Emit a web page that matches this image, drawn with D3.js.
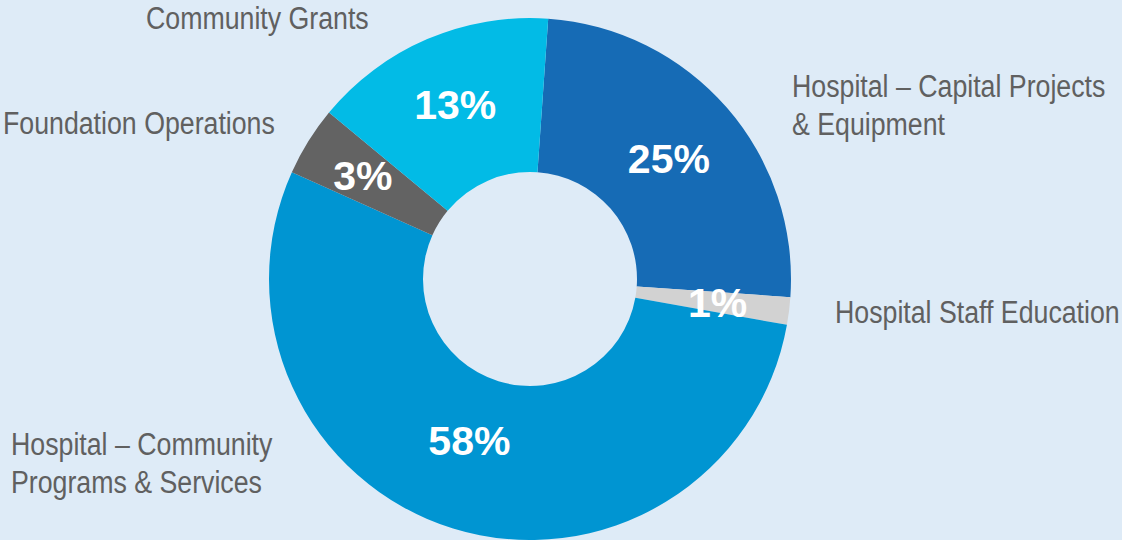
<!DOCTYPE html>
<html>
<head>
<meta charset="utf-8">
<script src="https://cdn.jsdelivr.net/npm/d3@7/dist/d3.min.js"></script>
<style>
  html, body { margin: 0; padding: 0; background: #deebf7; }
  svg { display: block; }
</style>
</head>
<body>
<svg id="chart" width="1122" height="540"></svg>
<script>
// ---- data ----
const categories = [
  "Hospital – Capital Projects & Equipment",
  "Hospital Staff Education",
  "Hospital – Community Programs & Services",
  "Foundation Operations",
  "Community Grants"
];
const shares = [25, 1.7, 53.9, 4.3, 15.1];
const percentLabels = ["25%", "1%", "58%", "3%", "13%"];
const categoryLines = [
  ["Hospital – Capital Projects", "& Equipment"],
  ["Hospital Staff Education"],
  ["Hospital – Community", "Programs & Services"],
  ["Foundation Operations"],
  ["Community Grants"]
];

// ---- styles / layout ----
const colors = ["#166bb5", "#d2d2d2", "#0095d2", "#636363", "#02bbe6"];
const W = 1122, H = 540;
const cx = 530, cy = 279, rOuter = 261, rInner = 107;
const startDeg = 4;
const labelFont = "'Liberation Sans', Arial, Helvetica, sans-serif";
const condense = 0.862;
const categoryAnchors = [
  { x: 792, y: 97 },
  { x: 835, y: 323 },
  { x: 11, y: 455 },
  { x: 3, y: 134 },
  { x: 146, y: 29 }
];
const lineHeight = 38;

const svg = d3.select("#chart");
svg.append("rect").attr("width", W).attr("height", H).attr("fill", "#deebf7");

const pie = d3.pie().sort(null).value(d => d)
  .startAngle(startDeg * Math.PI / 180)
  .endAngle(startDeg * Math.PI / 180 + 2 * Math.PI);
const arcs = pie(shares);

const arc = d3.arc().innerRadius(rInner).outerRadius(rOuter);
const g = svg.append("g").attr("transform", `translate(${cx},${cy})`);

g.selectAll("path.slice")
  .data(arcs)
  .join("path")
  .attr("class", "slice")
  .attr("d", arc)
  .attr("fill", (d, i) => colors[i]);

// percent labels
const labelRadius = [184, 189, 172, 197, 190];
const angleShift = [0, 0, 3.5, 0, 0];
g.selectAll("text.pct")
  .data(arcs)
  .join("text")
  .attr("class", "pct")
  .attr("transform", (d, i) => {
    const mid = (d.startAngle + d.endAngle) / 2 + angleShift[i] * Math.PI / 180;
    const c = d3.arc().innerRadius(labelRadius[i]).outerRadius(labelRadius[i])
      .startAngle(mid).endAngle(mid).centroid();
    return `translate(${c[0]},${c[1]})`;
  })
  .attr("text-anchor", "middle")
  .attr("dy", "0.36em")
  .attr("fill", "#ffffff")
  .attr("font-family", "'Liberation Sans', Arial, Helvetica, sans-serif")
  .attr("font-weight", "bold")
  .attr("font-size", 41)
  .text((d, i) => percentLabels[i]);

// category labels (condensed horizontally to mimic a narrow face)
categoryLines.forEach((lines, i) => {
  const a = categoryAnchors[i];
  const t = svg.append("text")
    .attr("transform", `translate(${a.x},${a.y}) scale(${condense},1)`)
    .attr("fill", "#606060")
    .attr("font-family", labelFont)
    .attr("font-size", 31);
  lines.forEach((ln, j) => {
    t.append("tspan")
      .attr("x", 0)
      .attr("y", j * lineHeight)
      .text(ln);
  });
});
</script>
</body>
</html>
